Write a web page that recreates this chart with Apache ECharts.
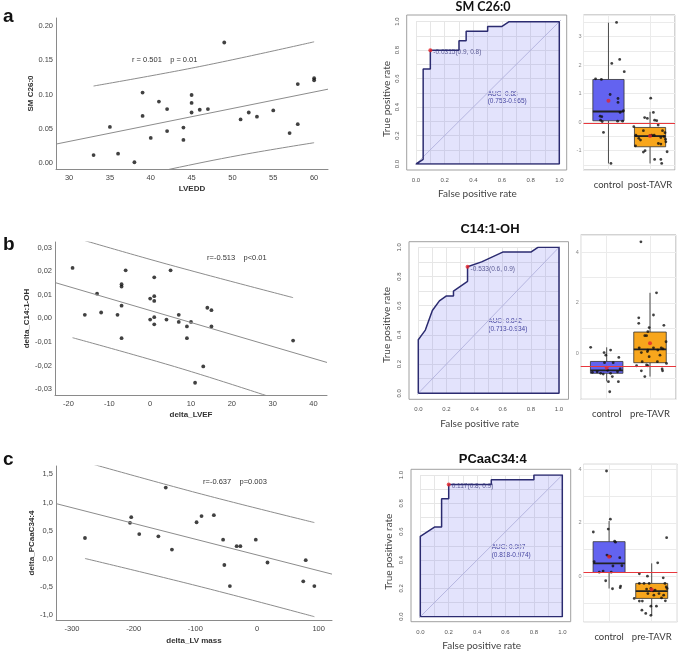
<!DOCTYPE html>
<html>
<head>
<meta charset="utf-8">
<script src="https://cdn.jsdelivr.net/npm/echarts@6/dist/echarts.min.js"></script>
<style>
html, body { margin: 0; padding: 0; background: #fff; }
#main { width: 685px; height: 654px; }
</style>
</head>
<body>
<div id="main"></div>
<script>
// ---- scatter panels (SPSS style) ----
var scA_x = [33, 35, 36, 38, 39, 39, 40, 41, 42, 42, 44, 44, 45, 45, 45, 46, 47, 49, 51, 52, 53, 55, 57, 58, 58, 60, 60];
var scA_y = [0.012, 0.053, 0.014, 0.0015, 0.103, 0.069, 0.037, 0.090, 0.079, 0.047, 0.052, 0.034, 0.0995, 0.088, 0.074, 0.078, 0.079, 0.176, 0.064, 0.074, 0.068, 0.077, 0.044, 0.1155, 0.057, 0.124, 0.121];
var scA_fitX = [28.4, 61.7];
var scA_fitY = [0.028, 0.108];
var scA_upX = [33, 46, 60];
var scA_upY = [0.1126, 0.141, 0.177];
var scA_loX = [33, 42.3, 51, 60];
var scA_loY = [-0.033, -0.0087, 0.012, 0.030];

var scB_x = [-19, -16, -13, -12, -8, -7, -7, -7, -7, -6, 0, 0, 1, 1, 1, 1, 1, 4, 5, 7, 7, 9, 9, 10, 13, 11, 14, 15, 15, 35];
var scB_y = [0.0214, 0.0015, 0.0105, 0.0025, 0.0015, 0.0145, 0.0135, 0.0054, -0.0084, 0.0204, 0.0084, -0.0005, 0.0174, 0.0094, 0.0074, 0.0005, -0.0025, -0.0005, 0.0204, 0.0015, -0.0015, -0.0034, -0.0084, -0.0015, -0.0204, -0.0273, 0.0045, 0.0035, -0.0034, -0.0094];
var scB_fitX = [-23.3, 43.3];
var scB_fitY = [0.0152, -0.0187];
var scB_upX = [-19, 5, 35];
var scB_upY = [0.0345, 0.0226, 0.0088];
var scB_loX = [-19, 8, 35];
var scB_loY = [-0.0082, -0.0215, -0.0365];

var scC_x = [-279, -206, -204, -191, -160, -148, -138, -98, -90, -70, -55, -53, -44, -33, -27, -2, 17, 75, 79, 93];
var scC_y = [0.37, 0.64, 0.74, 0.44, 0.40, 1.265, 0.165, 0.65, 0.76, 0.775, 0.34, -0.11, -0.485, 0.225, 0.225, 0.34, -0.065, -0.40, -0.025, -0.485];
var scC_fitX = [-326, 121.6];
var scC_fitY = [0.981, -0.272];
var scC_upX = [-279, -90, 93];
var scC_upY = [1.72, 1.15, 0.644];
var scC_loX = [-279, -90, 93];
var scC_loY = [0.006, -0.50, -1.028];

// ---- ROC curves ----
var rocA_fpr = [0, 0.05, 0.05, 0.1, 0.1, 0.3, 0.3, 0.35, 0.35, 0.5, 0.5, 0.6, 0.65, 1, 1, 0];
var rocA_tpr = [0, 0.033, 0.667, 0.667, 0.8, 0.8, 0.867, 0.867, 0.933, 0.933, 0.967, 0.967, 1, 1, 0, 0];
var rocA_cut = [0.1, 0.8];
var rocB_fpr = [0, 0, 0.025, 0.05, 0.075, 0.1, 0.15, 0.2, 0.25, 0.25, 0.35, 0.35, 0.45, 0.6, 0.8, 0.85, 1, 1, 0];
var rocB_tpr = [0, 0.367, 0.4, 0.433, 0.5, 0.567, 0.633, 0.667, 0.667, 0.7, 0.767, 0.867, 0.9, 0.967, 0.967, 1, 1, 0, 0];
var rocB_cut = [0.35, 0.867];
var rocC_fpr = [0, 0, 0.1, 0.15, 0.15, 0.2, 0.2, 0.5, 0.5, 0.8, 0.8, 1, 1, 0];
var rocC_tpr = [0, 0.567, 0.633, 0.633, 0.833, 0.833, 0.933, 0.933, 0.967, 0.967, 1, 1, 0, 0];
var rocC_cut = [0.2, 0.933];

// ---- box plots: [min, Q1, median, Q3, max] ----
var boxA_groups = ['control', 'post-TAVR'];
var boxA_stats = [[-1.45, 0.047, 0.374, 1.497, 3.49], [-1.45, -0.865, -0.49, -0.187, 0.363]];
var boxA_means = [0.75, -0.485];
var boxA_ref = -0.047;
var boxA_ctlX = [1.195, 1.08, 1.27, 1.38, 0.69, 0.83, 1.04, 1.23, 1.23, 1.28, 1.36, 0.80, 0.84, 0.81, 0.85, 1.22, 1.34, 0.88, 1.06];
var boxA_ctlY = [3.50, 2.06, 2.20, 1.77, 1.52, 1.50, 0.97, 0.83, 0.69, 0.34, 0.40, 0.21, 0.19, 0.07, 0.02, 0.035, 0.035, -0.36, -1.45];
var boxA_grpX = [2.016, 2.08, 1.87, 1.935, 2.11, 2.16, 2.195, 1.61, 1.84, 2.30, 2.36, 1.66, 1.73, 1.77, 2.0, 2.04, 2.10, 2.26, 2.34, 2.37, 2.20, 2.26, 1.88, 1.84, 2.41, 2.11, 2.26, 2.28, 1.65, 2.38];
var boxA_grpY = [0.84, 0.34, 0.16, 0.13, 0.07, 0.05, -0.10, -0.16, -0.30, -0.30, -0.37, -0.46, -0.57, -0.63, -0.47, -0.46, -0.46, -0.54, -0.51, -0.60, -0.75, -0.77, -1.00, -1.05, -1.04, -1.31, -1.31, -1.45, -0.83, -0.69];

var boxB_groups = ['control', 'pre-TAVR'];
var boxB_stats = [[-1.11, -0.79, -0.67, -0.32, 0.24], [-0.92, -0.37, 0.16, 0.845, 2.4]];
var boxB_means = [-0.57, 0.40];
var boxB_ref = -0.5;
var boxB_ctlX = [0.63, 0.94, 0.98, 1.09, 1.28, 0.95, 1.15, 0.67, 0.78, 0.86, 0.92, 1.02, 1.09, 1.13, 1.25, 1.31, 1.04, 1.27, 1.07];
var boxB_ctlY = [0.24, 0.03, -0.07, 0.13, -0.16, -0.37, -0.37, -0.75, -0.73, -0.79, -0.82, -0.67, -0.79, -0.92, -0.73, -0.62, -1.12, -1.12, -1.52];
var boxB_grpX = [1.79, 2.15, 2.08, 1.74, 1.74, 2.32, 1.98, 1.95, 1.88, 1.92, 1.75, 2.08, 2.26, 2.37, 2.30, 1.95, 2.18, 1.80, 1.94, 2.23, 1.98, 1.82, 2.38, 1.69, 1.92, 1.95, 2.17, 2.28, 2.29, 1.80, 1.88];
var boxB_grpY = [4.42, 2.40, 1.52, 1.41, 1.19, 1.11, 1.02, 0.86, 0.70, 0.70, 0.22, 0.22, 0.22, 0.46, 0.18, 0.13, 0.13, 0.03, 0.07, -0.07, -0.13, -0.33, -0.40, -0.49, -0.46, -0.49, -0.33, -0.62, -0.69, -0.69, -0.92];

var boxC_groups = ['control', 'pre-TAVR'];
var boxC_stats = [[-0.45, 0.15, 0.49, 1.30, 2.07], [-1.45, -0.82, -0.55, -0.26, 0.49]];
var boxC_means = [0.735, -0.49];
var boxC_ref = 0.137;
var boxC_ctlX = [0.94, 1.03, 0.98, 0.63, 1.13, 1.15, 0.95, 0.99, 1.03, 1.25, 0.65, 1.30, 1.09, 0.86, 0.77, 1.05, 0.92, 1.08, 1.27, 1.26];
var boxC_ctlY = [3.94, 2.14, 1.77, 1.66, 1.32, 1.28, 0.80, 0.76, 0.75, 0.70, 0.55, 0.40, 0.39, 0.20, 0.16, 0.16, -0.16, -0.46, -0.36, -0.42];
var boxC_grpX = [2.35, 2.14, 1.71, 1.90, 1.71, 1.82, 1.94, 2.27, 2.31, 2.34, 2.36, 1.88, 1.98, 2.03, 2.08, 1.91, 2.17, 2.28, 2.23, 1.59, 2.05, 2.32, 1.71, 1.78, 2.11, 1.77, 1.98, 1.98, 1.86];
var boxC_grpY = [1.45, 0.51, 0.10, 0.01, -0.26, -0.26, -0.26, -0.05, -0.26, -0.39, -0.45, -0.47, -0.45, -0.54, -0.51, -0.64, -0.64, -0.70, -0.80, -0.82, -0.70, -0.91, -0.92, -0.92, -1.11, -1.26, -1.11, -1.45, -1.38];

var SPSS_FONT = '"Liberation Sans", Arial, sans-serif';
var R_FONT = 'Lato, "Open Sans", sans-serif';
var boxColors = ['#6363f0', '#f8a61c'];

var grids = [], xAxes = [], yAxes = [], series = [], graphics = [];

function zip(xs, ys) {
    return xs.map(function (x, i) { return [x, ys[i]]; });
}

function fmtStep(step, digits, comma) {
    return function (v) {
        var k = v / step;
        if (Math.abs(k - Math.round(k)) > 1e-6) return '';
        var s = (Math.round(k) * step).toFixed(digits);
        if (parseFloat(s) === 0) s = (0).toFixed(digits);
        return comma ? s.replace('.', ',') : s;
    };
}

function text(x, y, str, font, color, align, rot) {
    graphics.push({
        type: 'text', x: x, y: y, rotation: rot || 0, silent: true,
        style: {
            text: str, font: font, fill: color || '#333',
            textAlign: align || 'left', align: align || 'left',
            textVerticalAlign: 'middle', verticalAlign: 'middle'
        }
    });
}

function addScatter(c) {
    var gi = grids.length;
    grids.push({left: c.rect[0], top: c.rect[1], width: c.rect[2], height: c.rect[3]});
    xAxes.push({
        gridIndex: gi, type: 'value', min: c.xMin, max: c.xMax, splitNumber: 5,
        name: c.xName, nameLocation: 'middle', nameGap: c.xGap,
        nameTextStyle: {fontFamily: SPSS_FONT, fontSize: 8, fontWeight: 'bold', color: '#333'},
        axisLine: {onZero: false, lineStyle: {color: '#8a8a8a', width: 1}},
        axisTick: {show: false}, splitLine: {show: false},
        axisLabel: {fontFamily: SPSS_FONT, fontSize: 7.5, color: '#444', margin: 5, formatter: fmtStep(c.xStep, 0, false)}
    });
    yAxes.push({
        gridIndex: gi, type: 'value', min: c.yMin, max: c.yMax, splitNumber: 5,
        name: c.yName, nameLocation: 'middle', nameGap: c.yGap, nameRotate: 90,
        nameTextStyle: {fontFamily: SPSS_FONT, fontSize: 8, fontWeight: 'bold', color: '#333'},
        axisLine: {show: true, onZero: false, lineStyle: {color: '#8a8a8a', width: 1}},
        axisTick: {show: false}, splitLine: {show: false},
        axisLabel: {fontFamily: SPSS_FONT, fontSize: 7.5, color: '#444', margin: 3, formatter: fmtStep(c.yStep, c.yDigits, c.comma)}
    });
    var lineStyle = {color: '#8c8c8c', width: 1};
    series.push({type: 'line', xAxisIndex: gi, yAxisIndex: gi, data: zip(c.fitX, c.fitY), symbol: 'none', lineStyle: lineStyle, silent: true});
    series.push({type: 'line', xAxisIndex: gi, yAxisIndex: gi, data: zip(c.upX, c.upY), symbol: 'none', smooth: 0.4, lineStyle: lineStyle, silent: true});
    series.push({type: 'line', xAxisIndex: gi, yAxisIndex: gi, data: zip(c.loX, c.loY), symbol: 'none', smooth: 0.4, lineStyle: lineStyle, silent: true});
    series.push({type: 'scatter', xAxisIndex: gi, yAxisIndex: gi, data: zip(c.x, c.y), symbolSize: 3.8, itemStyle: {color: '#111'}, silent: true});
}

function addRoc(c) {
    var gi = grids.length;
    grids.push({left: c.rect[0], top: c.rect[1], width: c.rect[2], height: c.rect[3]});
    var gridLine = {show: true, lineStyle: {color: '#e6e6e6', width: 1}};
    xAxes.push({
        gridIndex: gi, type: 'value', min: 0, max: 1, interval: 0.1,
        axisLine: {show: false, onZero: false}, axisTick: {show: false}, splitLine: gridLine,
        axisLabel: {fontFamily: SPSS_FONT, fontSize: 6, color: '#555', margin: 13, formatter: fmtStep(0.2, 1, false)}
    });
    yAxes.push({
        gridIndex: gi, type: 'value', min: 0, max: 1, interval: 0.1,
        axisLine: {show: false, onZero: false}, axisTick: {show: false}, splitLine: gridLine,
        axisLabel: {fontFamily: SPSS_FONT, fontSize: 6, color: '#555', margin: 16, rotate: 90, formatter: fmtStep(0.2, 1, false)}
    });
    series.push({
        type: 'line', xAxisIndex: gi, yAxisIndex: gi, clip: false, silent: true, symbol: 'none',
        data: [[-0.04, -0.04], [1.05, 1.05]], lineStyle: {color: '#b9b9d4', width: 0.8}, z: 2
    });
    series.push({
        type: 'line', xAxisIndex: gi, yAxisIndex: gi, silent: true, symbol: 'none',
        data: zip(c.fpr, c.tpr), lineStyle: {color: '#2b2b70', width: 1.5},
        areaStyle: {color: 'rgba(110,110,240,0.28)'}, z: 3
    });
    series.push({
        type: 'scatter', xAxisIndex: gi, yAxisIndex: gi, silent: true, symbolSize: 4,
        data: [c.cut], itemStyle: {color: '#e8262b'}, z: 5,
        label: {show: true, position: 'right', distance: 1, offset: [0, 2], formatter: c.cutLabel,
            fontFamily: SPSS_FONT, fontSize: 6.5, color: '#3a3a7c'}
    });
    graphics.push({type: 'rect', silent: true, shape: {x: c.frame[0], y: c.frame[1], width: c.frame[2], height: c.frame[3]},
        style: {fill: 'none', stroke: '#a0a0a0', lineWidth: 1}, z: 10});
    text(c.title[0], c.title[1], c.title[2], c.title[3], '#111', 'center');
    text(c.auc[0], c.auc[1], c.auc[2], '6.5px ' + SPSS_FONT, '#3a3a8c', 'left');
    text(c.auc[0], c.auc[1] + 7.7, c.auc[3], '6.5px ' + SPSS_FONT, '#3a3a8c', 'left');
    text(c.yLab[0], c.yLab[1], 'True positive rate', '10px ' + R_FONT, '#444', 'center', Math.PI / 2);
    text(c.xLab[0], c.xLab[1], 'False positive rate', '10px ' + R_FONT, '#444', 'center');
}

function renderBox(params, api) {
    var x = api.value(0);
    var half = 0.375;
    var pLo = api.coord([x, api.value(1)]);
    var pQ1 = api.coord([x, api.value(2)]);
    var pMed = api.coord([x, api.value(3)]);
    var pQ3 = api.coord([x, api.value(4)]);
    var pHi = api.coord([x, api.value(5)]);
    var left = api.coord([x - half, 0])[0];
    var right = api.coord([x + half, 0])[0];
    return {
        type: 'group', children: [
            {type: 'line', shape: {x1: pLo[0], y1: pLo[1], x2: pQ1[0], y2: pQ1[1]}, style: {stroke: '#4a4a4a', lineWidth: 1}},
            {type: 'line', shape: {x1: pHi[0], y1: pHi[1], x2: pQ3[0], y2: pQ3[1]}, style: {stroke: '#4a4a4a', lineWidth: 1}},
            {type: 'rect', shape: {x: left, y: pQ3[1], width: right - left, height: pQ1[1] - pQ3[1]},
                style: {fill: boxColors[api.value(6)], stroke: '#333', lineWidth: 0.8}},
            {type: 'line', shape: {x1: left, y1: pMed[1], x2: right, y2: pMed[1]}, style: {stroke: '#222', lineWidth: 1.8}}
        ]
    };
}

function addBox(c) {
    var gi = grids.length;
    grids.push({left: c.rect[0], top: c.rect[1], width: c.rect[2], height: c.rect[3],
        show: true, backgroundColor: '#fff', borderColor: '#a6a6a6', borderWidth: 1});
    var gridLine = {show: true, lineStyle: {color: '#ebebeb', width: 1}};
    xAxes.push({
        gridIndex: gi, type: 'value', min: 0.4, max: 2.6, splitNumber: 2,
        axisLine: {show: false, onZero: false}, axisTick: {show: false}, splitLine: gridLine,
        axisLabel: {fontFamily: R_FONT, fontSize: 9.5, color: '#3a3a3a', margin: 10,
            formatter: function (v) { return Math.abs(v - 1) < 1e-6 ? c.groups[0] : (Math.abs(v - 2) < 1e-6 ? c.groups[1] : ''); }}
    });
    yAxes.push({
        gridIndex: gi, type: 'value', min: c.yMin, max: c.yMax, splitNumber: c.split,
        axisLine: {show: false, onZero: false}, axisTick: {show: false}, splitLine: gridLine,
        axisLabel: {fontFamily: SPSS_FONT, fontSize: 5.5, color: '#888', margin: 2, formatter: fmtStep(c.labelStep, 0, false)}
    });
    var boxData = c.stats.map(function (s, i) { return [i + 1].concat(s).concat([i]); });
    series.push({
        type: 'custom', xAxisIndex: gi, yAxisIndex: gi, silent: true, renderItem: renderBox,
        encode: {x: 0, y: [1, 2, 3, 4, 5]}, data: boxData, z: 2
    });
    series.push({
        type: 'scatter', xAxisIndex: gi, yAxisIndex: gi, silent: true, symbolSize: 2.8,
        data: zip(c.ctlX, c.ctlY).concat(zip(c.grpX, c.grpY)), itemStyle: {color: '#111'}, z: 3,
        markLine: {silent: true, symbol: 'none', label: {show: false}, z: 6,
            lineStyle: {color: '#e8383d', width: 1, type: 'solid'}, data: [{yAxis: c.ref}]}
    });
    series.push({
        type: 'scatter', xAxisIndex: gi, yAxisIndex: gi, silent: true, symbolSize: 4,
        data: c.means.map(function (m, i) { return [i + 1, m]; }), itemStyle: {color: '#e3262b'}, z: 4
    });
}

// row a
addScatter({rect: [56, 18, 272, 151], xMin: 28.4, xMax: 61.7, yMin: -0.0083, yMax: 0.2117,
    xStep: 5, yStep: 0.05, yDigits: 2, comma: false, xName: 'LVEDD', yName: 'SM C26:0', xGap: 16, yGap: 19,
    x: scA_x, y: scA_y, fitX: scA_fitX, fitY: scA_fitY, upX: scA_upX, upY: scA_upY, loX: scA_loX, loY: scA_loY});
addRoc({rect: [416, 21.7, 143.3, 142.3], frame: [406.7, 15, 160, 155], fpr: rocA_fpr, tpr: rocA_tpr, cut: rocA_cut,
    cutLabel: '-0.0315(0.9, 0.8)', title: [483, 7, 'SM C26:0', 'bold 12.5px ' + R_FONT],
    auc: [487.7, 94, 'AUC: 0.88', '(0.753-0.965)'], yLab: [387, 99], xLab: [477.5, 194]});
addBox({rect: [583.5, 15, 91.5, 155], yMin: -1.68, yMax: 3.76, split: 10, labelStep: 1,
    groups: boxA_groups, stats: boxA_stats, means: boxA_means, ref: boxA_ref,
    ctlX: boxA_ctlX, ctlY: boxA_ctlY, grpX: boxA_grpX, grpY: boxA_grpY});

// row b
addScatter({rect: [55, 242, 272, 153], xMin: -23.3, xMax: 43.3, yMin: -0.0325, yMax: 0.0324,
    xStep: 10, yStep: 0.01, yDigits: 2, comma: true, xName: 'delta_LVEF', yName: 'delta_C14:1-OH', xGap: 16, yGap: 22,
    x: scB_x, y: scB_y, fitX: scB_fitX, fitY: scB_fitY, upX: scB_upX, upY: scB_upY, loX: scB_loX, loY: scB_loY});
addRoc({rect: [418.3, 247.3, 140.7, 146], frame: [409, 241.7, 159.5, 157.6], fpr: rocB_fpr, tpr: rocB_tpr, cut: rocB_cut,
    cutLabel: '-0.533(0.6, 0.9)', title: [490, 229.5, 'C14:1-OH', 'bold 13px ' + SPSS_FONT],
    auc: [488.3, 321.7, 'AUC: 0.842', '(0.713-0.934)'], yLab: [386.7, 325], xLab: [479.7, 423.3]});
addBox({rect: [580.7, 235, 95.3, 164.3], yMin: -1.82, yMax: 4.69, split: 6, labelStep: 2,
    groups: boxB_groups, stats: boxB_stats, means: boxB_means, ref: boxB_ref,
    ctlX: boxB_ctlX, ctlY: boxB_ctlY, grpX: boxB_grpX, grpY: boxB_grpY});

// row c
addScatter({rect: [56, 466, 276, 154], xMin: -326, xMax: 121.6, yMin: -1.087, yMax: 1.649,
    xStep: 100, yStep: 0.5, yDigits: 1, comma: true, xName: 'delta_LV mass', yName: 'delta_PCaaC34:4', xGap: 17, yGap: 19,
    x: scC_x, y: scC_y, fitX: scC_fitX, fitY: scC_fitY, upX: scC_upX, upY: scC_upY, loX: scC_loX, loY: scC_loY});
addRoc({rect: [420.3, 475, 142, 141.7], frame: [411, 469.3, 159.7, 152.4], fpr: rocC_fpr, tpr: rocC_tpr, cut: rocC_cut,
    cutLabel: '0.117(0.8, 0.9)', title: [492.7, 459, 'PCaaC34:4', 'bold 13px ' + SPSS_FONT],
    auc: [491.7, 547.7, 'AUC: 0.907', '(0.818-0.974)'], yLab: [388.3, 551.7], xLab: [481.7, 645.7]});
addBox({rect: [583.5, 464.3, 93.8, 157.4], yMin: -1.69, yMax: 4.19, split: 5, labelStep: 2,
    groups: boxC_groups, stats: boxC_stats, means: boxC_means, ref: boxC_ref,
    ctlX: boxC_ctlX, ctlY: boxC_ctlY, grpX: boxC_grpX, grpY: boxC_grpY});

// panel letters and correlation notes
text(3, 16.7, 'a', 'bold 19px ' + SPSS_FONT, '#111', 'left');
text(3, 245.1, 'b', 'bold 19px ' + SPSS_FONT, '#111', 'left');
text(3, 460.1, 'c', 'bold 19px ' + SPSS_FONT, '#111', 'left');
text(132, 60, 'r = 0.501    p = 0.01', '7.5px ' + SPSS_FONT, '#333', 'left');
text(207, 258, 'r=-0.513    p<0.01', '7.5px ' + SPSS_FONT, '#333', 'left');
text(203, 482, 'r=-0.637    p=0.003', '7.5px ' + SPSS_FONT, '#333', 'left');

var chart = echarts.init(document.getElementById('main'));
chart.setOption({
    animation: false,
    backgroundColor: '#fff',
    grid: grids,
    xAxis: xAxes,
    yAxis: yAxes,
    series: series,
    graphic: {elements: graphics}
});
</script>
</body>
</html>
